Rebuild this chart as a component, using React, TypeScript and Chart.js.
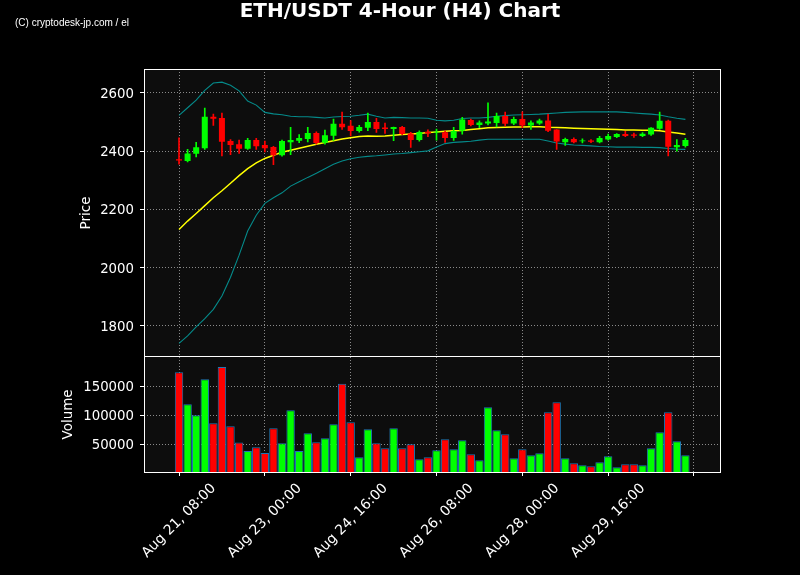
import { useEffect, useRef } from "react";
import { Chart, registerables } from "chart.js";

Chart.register(...registerables);

const chartTitle = "ETH/USDT 4-Hour (H4) Chart";
const watermark = "(C) cryptodesk-jp.com / el";

const xTickValues = [0, 10, 20, 30, 40, 50, 60];
const xTickLabels = ["Aug 21, 08:00", "Aug 23, 00:00", "Aug 24, 16:00", "Aug 26, 08:00", "Aug 28, 00:00", "Aug 29, 16:00", ""];
const priceTicks = [1800, 2000, 2200, 2400, 2600];
const volumeTicks = [50000, 100000, 150000];

const opens = [2372, 2366, 2391, 2410, 2518, 2514, 2435, 2424, 2408, 2438, 2421, 2414, 2386, 2431, 2436, 2442, 2462, 2429, 2453, 2494, 2487, 2469, 2480, 2500, 2481, 2476, 2483, 2461, 2438, 2467, 2464, 2465, 2445, 2470, 2507, 2490, 2495, 2497, 2521, 2495, 2510, 2488, 2495, 2505, 2474, 2431, 2442, 2434, 2437, 2431, 2440, 2449, 2459, 2457, 2452, 2457, 2477, 2504, 2413, 2418];
const highs = [2446, 2406, 2430, 2548, 2527, 2531, 2440, 2438, 2444, 2444, 2435, 2417, 2438, 2482, 2457, 2482, 2466, 2472, 2510, 2534, 2505, 2489, 2531, 2513, 2496, 2483, 2485, 2465, 2470, 2473, 2476, 2469, 2482, 2516, 2510, 2504, 2566, 2531, 2534, 2517, 2535, 2504, 2510, 2527, 2474, 2445, 2446, 2442, 2440, 2451, 2459, 2460, 2468, 2462, 2464, 2481, 2534, 2507, 2440, 2444];
const lows = [2355, 2363, 2380, 2406, 2488, 2384, 2388, 2392, 2406, 2406, 2397, 2354, 2383, 2388, 2429, 2432, 2424, 2424, 2437, 2475, 2452, 2465, 2470, 2464, 2461, 2436, 2457, 2413, 2434, 2450, 2438, 2430, 2437, 2458, 2487, 2481, 2490, 2483, 2487, 2491, 2481, 2475, 2492, 2467, 2406, 2420, 2428, 2428, 2429, 2428, 2438, 2446, 2450, 2447, 2450, 2454, 2475, 2384, 2400, 2414];
const closes = [2368, 2392, 2413, 2518, 2511, 2432, 2421, 2408, 2438, 2417, 2410, 2386, 2435, 2438, 2445, 2462, 2428, 2455, 2494, 2482, 2469, 2483, 2500, 2476, 2476, 2483, 2459, 2438, 2466, 2461, 2467, 2445, 2469, 2509, 2490, 2498, 2502, 2521, 2494, 2510, 2488, 2498, 2505, 2470, 2433, 2442, 2431, 2437, 2432, 2445, 2452, 2459, 2452, 2453, 2460, 2480, 2504, 2415, 2421, 2438];
const volumes = [174000, 119000, 100000, 162000, 86000, 183000, 81000, 53000, 38500, 45000, 35000, 77500, 51700, 108600, 38500, 69000, 53400, 60300, 84500, 154000, 88000, 27600, 75900, 51700, 43100, 77600, 43100, 50000, 24100, 27600, 39700, 58600, 41400, 56900, 32800, 22400, 113800, 74100, 67200, 25900, 41400, 31000, 34500, 105200, 122400, 25900, 17200, 13800, 12100, 19000, 29300, 10300, 15500, 15500, 13800, 43100, 70700, 105200, 55200, 31000];
const sma = [2131, 2160, 2186, 2213, 2240, 2264, 2290, 2316, 2340, 2360, 2375, 2386, 2396, 2403, 2410, 2417, 2424, 2430, 2436, 2442, 2446, 2450, 2452, 2451, 2452, 2455, 2457, 2459, 2461, 2464, 2466, 2468, 2470, 2471, 2474, 2477, 2480, 2481, 2482, 2483, 2483, 2484, 2484, 2482, 2481, 2480, 2479, 2478, 2477, 2476, 2475, 2474, 2473, 2473, 2472, 2472, 2470, 2466, 2462, 2458];
const bbUpper = [2523, 2549, 2575, 2609, 2634, 2637, 2626, 2607, 2572, 2558, 2533, 2528, 2525, 2520, 2518, 2518, 2516, 2514, 2517, 2519, 2520, 2523, 2527, 2520, 2514, 2516, 2515, 2514, 2514, 2513, 2506, 2504, 2506, 2512, 2514, 2514, 2516, 2520, 2522, 2524, 2525, 2526, 2527, 2529, 2531, 2533, 2534, 2535, 2535, 2535, 2535, 2535, 2533, 2531, 2529, 2527, 2524, 2518, 2513, 2509];
const bbLower = [1740, 1766, 1797, 1825, 1857, 1903, 1967, 2043, 2126, 2180, 2221, 2240, 2257, 2280, 2295, 2310, 2324, 2340, 2355, 2366, 2374, 2379, 2382, 2384, 2387, 2390, 2392, 2395, 2398, 2401, 2414, 2426, 2430, 2432, 2434, 2438, 2441, 2441, 2441, 2441, 2441, 2441, 2441, 2435, 2428, 2424, 2421, 2420, 2418, 2416, 2415, 2414, 2414, 2414, 2413, 2413, 2412, 2409, 2407, 2406];

const UP = "#00ff00";
const DOWN = "#ff0000";
const PANEL_BG = "#0d0d0d";
const GRID = "#8a8a8a";
const FONT = "DejaVu Sans";
const X_TICK_FONT = 13.9;

export default function App() {
  const ref = useRef<HTMLCanvasElement>(null);

  useEffect(() => {
    document.body.style.margin = "0";
    document.body.style.background = "#000";
    const canvas = ref.current;
    if (!canvas) return;
    Chart.defaults.font.family = FONT;
    Chart.defaults.color = "#ffffff";

    const idx = closes.map((_, i) => i);
    const candleColors = idx.map((i) => (closes[i] >= opens[i] ? UP : DOWN));

    const gridOpts = {
      color: GRID,
      lineWidth: 1,
      offset: false,
      drawTicks: true,
      tickLength: 4,
      tickColor: "#ffffff",
      tickWidth: 1,
      tickBorderDash: [],
    };

    const panelPlugin = {
      id: "panels",
      beforeDraw(chart: any) {
        const { ctx, chartArea } = chart;
        ctx.save();
        ctx.fillStyle = "#000000";
        ctx.fillRect(0, 0, chart.width, chart.height);
        ctx.fillStyle = PANEL_BG;
        for (const id of ["y", "yv"]) {
          const s = chart.scales[id];
          ctx.fillRect(chartArea.left, s.top, chartArea.right - chartArea.left, s.bottom - s.top);
        }
        ctx.restore();
      },
      afterDraw(chart: any) {
        const { ctx, chartArea } = chart;
        ctx.save();
        ctx.strokeStyle = "#ffffff";
        ctx.lineWidth = 1;
        for (const id of ["y", "yv"]) {
          const s = chart.scales[id];
          const l = Math.floor(chartArea.left) + 0.5;
          const r = Math.floor(chartArea.right) + 0.5;
          const t = Math.floor(s.top) + 0.5;
          const b = Math.floor(s.bottom) + 0.5;
          ctx.strokeRect(l, t, r - l, b - t);
        }
        // x tick labels, rotated 45 degrees, centered under each tick
        const xs = chart.scales.x;
        ctx.fillStyle = "#ffffff";
        ctx.font = `${X_TICK_FONT}px "${FONT}"`;
        xTickValues.forEach((v, i) => {
          const label = xTickLabels[i];
          if (!label) return;
          const px = xs.getPixelForValue(v);
          const w = ctx.measureText(label).width;
          const h = X_TICK_FONT * 1.17;
          const ext = (w + h) * Math.SQRT1_2;
          const cy = chartArea.bottom + 8.4 + ext / 2;
          ctx.save();
          ctx.translate(px, cy);
          ctx.rotate(-Math.PI / 4);
          ctx.textAlign = "center";
          ctx.textBaseline = "middle";
          ctx.fillText(label, 0, 0);
          ctx.restore();
        });
        // title
        ctx.font = `bold 20px "${FONT}"`;
        ctx.textAlign = "center";
        ctx.textBaseline = "alphabetic";
        ctx.fillText(chartTitle, 400, 17);
        // watermark
        ctx.font = `10px "Liberation Sans"`;
        ctx.textAlign = "left";
        ctx.fillText(watermark, 15, 26);
        ctx.restore();
      },
    };

    const chart = new Chart(canvas, {
      type: "bar",
      data: {
        datasets: [
          {
            type: "bar",
            label: "Body",
            data: idx.map((i) => ({ x: i, y: [opens[i], closes[i]] })) as any,
            backgroundColor: candleColors,
            borderWidth: 0,
            grouped: false,
            barPercentage: 0.7,
            categoryPercentage: 1,
            yAxisID: "y",
            order: 0,
          },
          {
            type: "bar",
            label: "Wick",
            data: idx.map((i) => ({ x: i, y: [lows[i], highs[i]] })) as any,
            backgroundColor: candleColors,
            borderWidth: 0,
            barThickness: 1,
            grouped: false,
            yAxisID: "y",
            order: 1,
          },
          {
            type: "line",
            label: "SMA",
            data: idx.map((i) => ({ x: i, y: sma[i] })),
            borderColor: "#ffff00",
            borderWidth: 1.5,
            pointRadius: 0,
            yAxisID: "y",
            order: 2,
          },
          {
            type: "line",
            label: "Upper",
            data: idx.map((i) => ({ x: i, y: bbUpper[i] })),
            borderColor: "#058a8a",
            borderWidth: 1.1,
            pointRadius: 0,
            yAxisID: "y",
            order: 3,
          },
          {
            type: "line",
            label: "Lower",
            data: idx.map((i) => ({ x: i, y: bbLower[i] })),
            borderColor: "#058a8a",
            borderWidth: 1.1,
            pointRadius: 0,
            yAxisID: "y",
            order: 3,
          },
          {
            type: "bar",
            label: "Volume",
            data: idx.map((i) => ({ x: i, y: volumes[i] })),
            backgroundColor: candleColors,
            borderColor: "#1f77b4",
            borderWidth: 1,
            grouped: false,
            barPercentage: 0.98,
            categoryPercentage: 1,
            yAxisID: "yv",
            order: 4,
          },
        ] as any,
      },
      options: {
        responsive: false,
        animation: false,
        devicePixelRatio: 1,
        events: [],
        layout: { padding: { left: 0, top: 69, right: 80, bottom: 0 } },
        plugins: { legend: { display: false }, tooltip: { enabled: false }, title: { display: false } },
        scales: {
          x: {
            type: "linear",
            offset: false,
            min: -4.08,
            max: 63.03,
            afterBuildTicks: (s: any) => {
              s.ticks = xTickValues.map((v) => ({ value: v }));
            },
            afterFit: (s: any) => {
              s.height = 103;
            },
            ticks: { display: false, autoSkip: false },
            grid: gridOpts,
            border: { display: false, dash: [1, 2] },
          },
          y: {
            type: "linear",
            position: "left",
            stack: "panels",
            stackWeight: 2.5,
            weight: 2,
            min: 1694,
            max: 2682,
            afterBuildTicks: (s: any) => {
              s.ticks = priceTicks.map((v) => ({ value: v }));
            },
            afterFit: (s: any) => {
              s.width = 144;
            },
            ticks: { color: "#ffffff", font: { size: 13.3 }, padding: 6, labelOffset: 1.5, autoSkip: false, callback: (v: any) => String(v) },
            grid: gridOpts,
            border: { display: false, dash: [1, 2] },
            title: { display: true, text: "Price", color: "#ffffff", font: { size: 13.5 }, padding: { top: 78.6, bottom: 0 } },
          },
          yv: {
            type: "linear",
            position: "left",
            stack: "panels",
            stackWeight: 1,
            weight: 1,
            min: 2200,
            max: 200500,
            afterBuildTicks: (s: any) => {
              s.ticks = volumeTicks.map((v) => ({ value: v }));
            },
            afterFit: (s: any) => {
              s.width = 144;
            },
            ticks: { color: "#ffffff", font: { size: 13.3 }, padding: 6, labelOffset: 1.5, autoSkip: false, callback: (v: any) => String(v) },
            grid: gridOpts,
            border: { display: false, dash: [1, 2] },
            title: { display: true, text: "Volume", color: "#ffffff", font: { size: 13.5 }, padding: { top: 59.9, bottom: 0 } },
          },
        } as any,
      },
      plugins: [panelPlugin],
    });

    return () => {
      chart.destroy();
    };
  }, []);

  return <canvas ref={ref} width={800} height={575} style={{ display: "block" }} />;
}
